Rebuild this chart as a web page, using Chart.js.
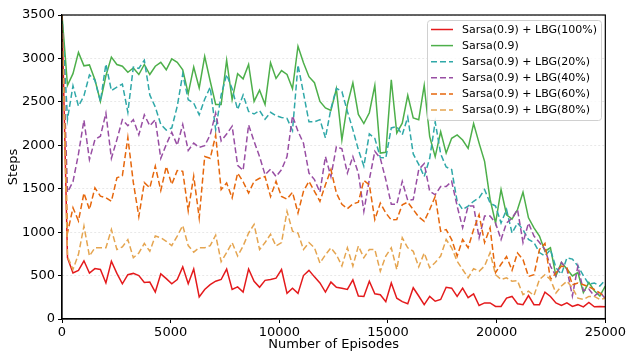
<!DOCTYPE html>
<html>
<head>
<meta charset="utf-8">
<script src="https://cdn.jsdelivr.net/npm/chart.js@4/dist/chart.umd.min.js"></script>
<style>
  html, body { margin: 0; padding: 0; background: #fff; }
  #wrap { width: 628px; height: 356px; }
</style>
</head>
<body>
<div id="wrap"><canvas id="stepsChart" width="628" height="356"></canvas></div>
<script>
// 100 evaluation points spread evenly over 0..25000 episodes
const episodes = Array.from({ length: 100 }, (_, i) => i * 25000 / 99);

const lbg100 = [
  3500, 705, 530, 560, 670, 530, 580, 570, 415, 665,
  525, 405, 510, 525, 500, 420, 425, 310, 520, 465,
  405, 455, 600, 405, 575, 255, 340, 395, 435, 455,
  575, 340, 370, 310, 575, 435, 365, 445, 455, 470,
  570, 295, 355, 295, 500, 560, 485, 415, 310, 425,
  365, 355, 340, 450, 265, 260, 435, 290, 280, 200,
  415, 240, 200, 175, 360, 265, 165, 260, 205, 225,
  365, 355, 260, 355, 245, 290, 155, 185, 185, 145,
  145, 240, 260, 175, 165, 270, 165, 165, 310, 260,
  185, 155, 185, 145, 165, 140, 190, 140, 145, 140
];
const sarsa = [
  3500, 2690, 2825, 3070, 2915, 2925, 2755, 2505, 2800, 3015,
  2930, 2910, 2840, 2890, 2815, 2930, 2815, 2910, 2955, 2870,
  2995, 2955, 2870, 2595, 2900, 2660, 3025, 2740, 2470, 2470,
  2980, 2525, 2825, 2765, 2930, 2505, 2635, 2470, 2950, 2770,
  2860, 2815, 2650, 3140, 2950, 2790, 2720, 2505, 2430, 2400,
  2650, 2060, 2470, 2720, 2355, 2250, 2375, 2690, 1910, 1920,
  2755, 2140, 2255, 2575, 2315, 2295, 2690, 2100, 1870, 2155,
  1910, 2080, 2120, 2060, 1965, 2250, 2025, 1815, 1380, 1105,
  1490, 1200, 1150, 1260, 1460, 1165, 1050, 955, 780, 820,
  495, 650, 575, 495, 535, 305, 420, 325, 265, 380
];
const lbg20 = [
  3500, 2300, 2685, 2450, 2570, 2810, 2750, 2505, 2935, 2630,
  2670, 2705, 2380, 2900, 2885, 2980, 2580, 2440, 2240, 2175,
  2200, 2450, 2820, 2525, 2485, 2350, 2530, 2670, 2180, 2580,
  2815, 2650, 2410, 2580, 2390, 2360, 2400, 2300, 2380, 2340,
  2320, 2310, 2170, 2925, 2600, 2270, 2270, 2295, 2085, 2420,
  2655, 2620, 2390, 2180, 1950, 1760, 2130, 2080, 1860, 1855,
  2200, 2215, 2120, 2325, 1900, 1780, 1640, 1850, 2270, 1900,
  1750, 1720, 1355, 1260, 1300, 1355, 1395, 1490, 1335, 1300,
  1105, 1260, 990, 1105, 1030, 915, 880, 765, 725, 800,
  590, 515, 705, 690, 610, 500, 400, 415, 380, 450
];
const lbg40 = [
  3500, 1460, 1580, 1900, 2290, 1835, 2065, 2105, 2370, 1850,
  2065, 2295, 2225, 2295, 2120, 2350, 2225, 2295, 1850, 2010,
  2150, 2000, 2240, 1940, 2025, 1975, 1995, 2120, 2370, 2050,
  2130, 2220, 1770, 1710, 2235, 2045, 1870, 1660, 1725, 1640,
  1720, 1870, 2340, 2160, 2025, 1680, 1605, 1460, 1870, 1640,
  1985, 1960, 1680, 1870, 1680, 1240, 1605, 1930, 1850, 1605,
  1320, 1320, 1585, 1365, 1375, 1720, 1790, 1470, 1430, 1525,
  1525, 1585, 1300, 1050, 1300, 1300, 935, 1185, 1185, 1105,
  915, 1105, 1160, 1260, 880, 1105, 955, 880, 800, 610,
  495, 650, 575, 265, 610, 325, 345, 265, 315, 230
];
const lbg60 = [
  3500, 990, 1280, 1130, 1450, 1260, 1510, 1415, 1395, 1355,
  1625, 1650, 2090, 1570, 1180, 1570, 1510, 1760, 1480, 1755,
  1550, 1710, 1700, 1245, 1645, 1165, 1870, 1850, 2115, 1490,
  1565, 1395, 1680, 1580, 1450, 1585, 1620, 1640, 1410, 1585,
  1410, 1380, 1460, 1220, 1470, 1585, 1470, 1355, 1545, 1720,
  1450, 1320, 1270, 1325, 1345, 1595, 1545, 1145, 1335, 1220,
  1140, 1145, 1315, 1345, 1260, 1175, 1125, 1260, 1410, 1010,
  1030, 915, 725, 915, 820, 1030, 1200, 880, 1050, 535,
  630, 720, 560, 760, 685, 490, 510, 800, 870, 455,
  530, 610, 590, 395, 415, 395, 370, 340, 300, 250
];
const lbg80 = [
  3500, 720, 570, 745, 1070, 725, 820, 820, 820, 1030,
  800, 830, 915, 705, 760, 870, 780, 955, 935, 895,
  845, 955, 1075, 845, 770, 820, 820, 845, 965, 660,
  765, 880, 725, 840, 990, 1090, 800, 880, 975, 840,
  880, 1240, 1010, 990, 800, 880, 820, 645, 740, 820,
  740, 610, 820, 610, 840, 705, 800, 800, 550, 725,
  820, 570, 935, 820, 780, 600, 760, 590, 650, 725,
  915, 820, 665, 570, 475, 580, 550, 610, 765, 510,
  455, 475, 435, 440, 280, 320, 270, 455, 510, 455,
  300, 380, 435, 360, 240, 225, 260, 260, 225, 240
];

const seriesLabels = [
  'Sarsa(0.9) + LBG(100%)',
  'Sarsa(0.9)',
  'Sarsa(0.9) + LBG(20%)',
  'Sarsa(0.9) + LBG(40%)',
  'Sarsa(0.9) + LBG(60%)',
  'Sarsa(0.9) + LBG(80%)'
];
const seriesValues = [lbg100, sarsa, lbg20, lbg40, lbg60, lbg80];
const seriesColors = ['#e41a1c', '#4daf4a', '#2fa8a8', '#984ea3', '#e6670c', '#e5a550'];
const seriesDashed = [false, false, true, true, true, true];

const xTicks = [0, 5000, 10000, 15000, 20000, 25000];
const yTicks = [0, 500, 1000, 1500, 2000, 2500, 3000, 3500];

Chart.defaults.font.family = "'DejaVu Sans', sans-serif";
Chart.defaults.color = '#000';

// framed legend inside the upper right of the plot, plus the closed plot box
const boxLegend = {
  id: 'boxLegend',
  afterDraw(chart) {
    const { ctx, chartArea } = chart;
    ctx.save();

    ctx.strokeStyle = '#000';
    ctx.lineWidth = 1.2;
    ctx.strokeRect(chartArea.left, chartArea.top, chartArea.right - chartArea.left, chartArea.bottom - chartArea.top);

    const x = 427.5, y = 20.5, w = 174, h = 100;
    ctx.beginPath();
    ctx.roundRect(x, y, w, h, 3);
    ctx.fillStyle = 'rgba(255,255,255,0.8)';
    ctx.fill();
    ctx.strokeStyle = '#d0d0d0';
    ctx.lineWidth = 1;
    ctx.stroke();

    ctx.font = "11px 'DejaVu Sans'";
    ctx.textBaseline = 'middle';
    ctx.fillStyle = '#000';
    chart.data.datasets.forEach((ds, i) => {
      const ly = 29.5 + i * 16.1;
      ctx.beginPath();
      ctx.setLineDash(ds.borderDash || []);
      ctx.strokeStyle = ds.borderColor;
      ctx.lineWidth = 1.5;
      ctx.moveTo(431, ly);
      ctx.lineTo(453, ly);
      ctx.stroke();
      ctx.setLineDash([]);
      ctx.fillText(ds.label, 462, ly + 0.5);
    });
    ctx.restore();
  }
};

new Chart(document.getElementById('stepsChart'), {
  type: 'line',
  data: {
    datasets: seriesValues.map((vals, i) => ({
      label: seriesLabels[i],
      data: vals.map((v, j) => ({ x: episodes[j], y: v })),
      borderColor: seriesColors[i],
      backgroundColor: seriesColors[i],
      borderWidth: 1.5,
      borderDash: seriesDashed[i] ? [6, 3] : [],
      pointRadius: 0,
      tension: 0,
      order: -i
    }))
  },
  options: {
    responsive: false,
    animation: false,
    layout: { padding: { top: 15, right: 21, left: 0, bottom: 0 } },
    plugins: {
      legend: { display: false },
      tooltip: { enabled: false }
    },
    scales: {
      x: {
        type: 'linear',
        min: 0,
        max: 25000,
        afterFit: s => { s.height = 37; },
        afterBuildTicks: s => { s.ticks = xTicks.map(v => ({ value: v })); },
        ticks: { font: { size: 13 }, padding: 2, maxRotation: 0, callback: v => String(v) },
        grid: { drawOnChartArea: false, tickLength: 4, tickColor: '#000', tickWidth: 1 },
        border: { color: '#000', width: 1.2 },
        title: { display: true, text: 'Number of Episodes', font: { size: 13 }, padding: { top: 0, bottom: 4 } }
      },
      y: {
        min: 0,
        max: 3500,
        afterFit: s => { s.width = 62; },
        afterBuildTicks: s => { s.ticks = yTicks.map(v => ({ value: v })); },
        ticks: { font: { size: 13 }, padding: 3, callback: v => String(v) },
        grid: { color: '#e3e3e3', lineWidth: 0.8, tickLength: 4, tickColor: '#000', tickWidth: 1, tickBorderDash: [] },
        border: { color: '#000', width: 1.2, dash: [2, 2] },
        title: { display: true, text: 'Steps', font: { size: 13 }, padding: { top: 6, bottom: 0 } }
      }
    }
  },
  plugins: [boxLegend]
});
</script>
</body>
</html>
